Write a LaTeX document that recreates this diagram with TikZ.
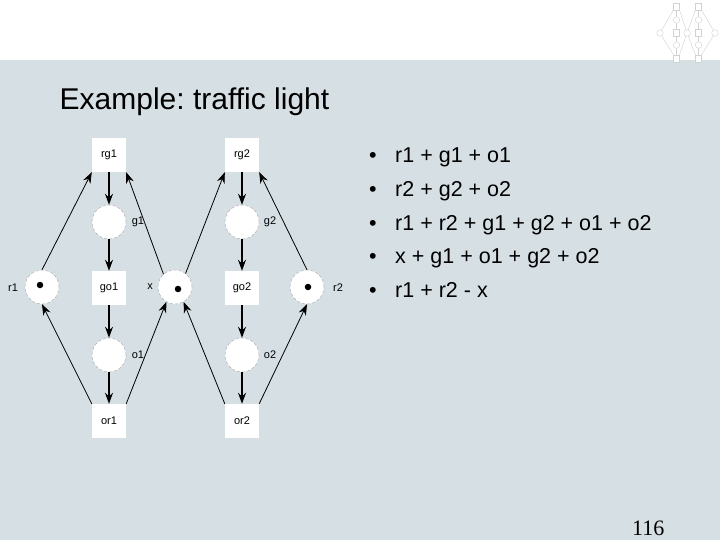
\documentclass[tikz,border=0pt]{standalone}
\usepackage{fontspec}
\setmainfont{Liberation Sans}
\newfontfamily\slideserif{Liberation Serif}
\usetikzlibrary{arrows.meta}
\definecolor{slidebg}{RGB}{214,223,228}
\frenchspacing
\begin{document}
\begin{tikzpicture}[x=1pt,y=-1pt,
  trans/.style={rectangle, fill=white, minimum size=34pt, inner sep=0pt, font=\fontsize{11}{13}\selectfont},
  place/.style={circle, fill=white, draw=gray!70, densely dashed, line width=0.4pt, minimum size=34pt, inner sep=0pt},
  token/.style={circle, fill=black, minimum size=6.5pt, inner sep=0pt},
  lbl/.style={font=\fontsize{11}{13}\selectfont, inner sep=0pt},
  arc/.style={-{Stealth[length=11pt,width=8pt]}, line width=0.8pt},
  varc/.style={arc, line width=1.3pt},
  bul/.style={anchor=base, inner sep=0pt, font=\fontsize{21.5}{26}\selectfont},
  item/.style={anchor=base west, inner sep=0pt, font=\fontsize{21.5}{26}\selectfont},
  thumb/.style={draw=gray!35, line width=0.4pt},
]
\useasboundingbox (0,0) rectangle (720,540);
\fill[white] (0,0) rectangle (720,60);
\fill[slidebg] (0,60) rectangle (720,540);

% thumbnail icon
\begin{scope}[thumb]
  \draw (660,33) -- (673.5,10) (660,33) -- (673.5,55);
  \draw (687,33) -- (679.5,10) (687,33) -- (679.5,55);
  \draw (687,33) -- (695.5,10) (687,33) -- (695.5,55);
  \draw (715,33) -- (701.5,10) (715,33) -- (701.5,55);
  \draw (676.5,10) -- (676.5,55) (698.5,10) -- (698.5,55);
  \draw[fill=white] (673.5,3) rectangle (679.5,10);
  \draw[fill=white] (695.5,3) rectangle (701.5,10);
  \draw[fill=white] (673.5,29.5) rectangle (679.5,36.5);
  \draw[fill=white] (695.5,29.5) rectangle (701.5,36.5);
  \draw[fill=white] (673.5,55) rectangle (679.5,62);
  \draw[fill=white] (695.5,55) rectangle (701.5,62);
  \draw[fill=white] (676.5,20) circle (3.3);
  \draw[fill=white] (698.5,20) circle (3.3);
  \draw[fill=white] (676.5,45) circle (3.3);
  \draw[fill=white] (698.5,45) circle (3.3);
  \draw[fill=white] (660,33) circle (3.3);
  \draw[fill=white] (687,33) circle (3.3);
  \draw[fill=white] (715,33) circle (3.3);
\end{scope}

% title
\node[anchor=base west, inner sep=0pt, font=\fontsize{30}{34}\selectfont] (title) at (59.5,110) {Example: traffic light};

% transitions
\node[trans] (rg1) at (109,155) {rg1};
\node[trans] (go1) at (109,288) {go1};
\node[trans] (or1) at (109,421) {or1};
\node[trans] (rg2) at (242,155) {rg2};
\node[trans] (go2) at (242,288) {go2};
\node[trans] (or2) at (242,421) {or2};

% places
\node[place] (g1) at (109,222) {};
\node[place] (o1) at (109,355) {};
\node[place] (g2) at (242,222) {};
\node[place] (o2) at (242,355) {};
\node[place] (r1) at (42,287) {};
\node[place] (x)  at (175,287) {};
\node[place] (r2) at (307,287) {};

% tokens
\node[token] (tr1) at (40,285) {};
\node[token] (tx)  at (178,289) {};
\node[token] (tr2) at (308,287) {};

% place labels
\node[lbl] (lr1) at (13,288) {r1};
\node[lbl] (lx)  at (150,287) {x};
\node[lbl] (lr2) at (338,288) {r2};
\node[lbl] (lg1) at (138,222) {g1};
\node[lbl] (lo1) at (138,355) {o1};
\node[lbl] (lg2) at (270,222) {g2};
\node[lbl] (lo2) at (270,355) {o2};

% vertical arcs
\draw[varc] (rg1) -- (g1);
\draw[varc] (g1) -- (go1);
\draw[varc] (go1) -- (o1);
\draw[varc] (o1) -- (or1);
\draw[varc] (rg2) -- (g2);
\draw[varc] (g2) -- (go2);
\draw[varc] (go2) -- (o2);
\draw[varc] (o2) -- (or2);

% diagonal arcs
\draw[arc] (r1.north) -- (rg1.south west);
\draw[arc] (x.132) -- (rg1.south east);
\draw[arc] (x.52) -- (rg2.south west);
\draw[arc] (r2.north) -- (rg2.south east);
\draw[arc] (or1.north west) -- (r1.south);
\draw[arc] (or1.north east) -- (x.240);
\draw[arc] (or2.north west) -- (x.300);
\draw[arc] (or2.north east) -- (r2.south);

% invariants list
\node[bul] (b1) at (373,163) {\textbullet};
\node[item] (i1) at (395,163) {r1 + g1 + o1};
\node[bul] (b2) at (373,196.5) {\textbullet};
\node[item] (i2) at (395,196.5) {r2 + g2 + o2};
\node[bul] (b3) at (373,230) {\textbullet};
\node[item] (i3) at (395,230) {r1 + r2 + g1 + g2 + o1 + o2};
\node[bul] (b4) at (373,263.5) {\textbullet};
\node[item] (i4) at (395,263.5) {x + g1 + o1 + g2 + o2};
\node[bul] (b5) at (373,297) {\textbullet};
\node[item] (i5) at (395,297) {r1 + r2 - x};

% page number
\node[anchor=base west, inner sep=0pt, font=\slideserif\fontsize{22}{26}\selectfont] (pg) at (632,535.5) {116};
\end{tikzpicture}
\end{document}
